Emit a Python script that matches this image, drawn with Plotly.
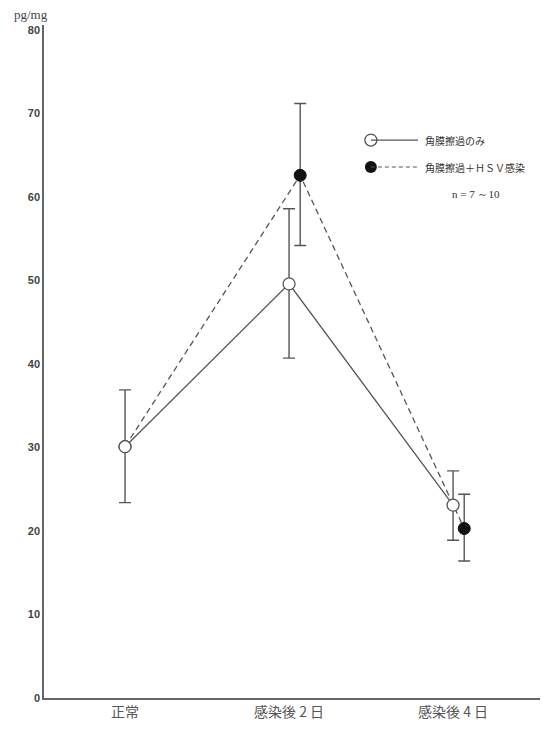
import plotly.graph_objects as go

categories = ["正常", "感染後 2 日", "感染後 4 日"]
abrasion_only = [30.1, 49.6, 23.1]
abrasion_only_err_plus = [6.8, 9.0, 4.1]
abrasion_only_err_minus = [6.7, 8.9, 4.2]
abrasion_hsv = [30.1, 62.6, 20.3]
abrasion_hsv_err_plus = [0, 8.6, 4.1]
abrasion_hsv_err_minus = [0, 8.4, 3.9]
y_ticks = [0, 10, 20, 30, 40, 50, 60, 70, 80]
y_tick_labels = ["0", "10", "20", "30", "40", "50", "60", "70", "80"]
legend_labels = ["角膜擦過のみ", "角膜擦過＋ＨＳＶ感染"]
n_note = "n = 7 ～10"

GRAY = "#555555"
FONT_CJK = "Noto Sans CJK JP"
hsv_offset = [0, 0.068, 0.068]

x_idx = list(range(len(categories)))
x_hsv = [i + o for i, o in zip(x_idx, hsv_offset)]

fig = go.Figure()

fig.add_trace(go.Scatter(
    x=x_hsv, y=abrasion_hsv, mode="lines+markers",
    line=dict(color=GRAY, width=1.3, dash="6px,4px"),
    marker=dict(symbol="circle", size=12, color="#111111", line=dict(color="#111111", width=1)),
    error_y=dict(type="data", symmetric=False, array=abrasion_hsv_err_plus,
                 arrayminus=abrasion_hsv_err_minus, color=GRAY, thickness=1.4, width=6),
    showlegend=False,
))
fig.add_trace(go.Scatter(
    x=x_idx, y=abrasion_only, mode="lines+markers",
    line=dict(color=GRAY, width=1.3),
    marker=dict(symbol="circle", size=12, color="white", line=dict(color=GRAY, width=1.3)),
    error_y=dict(type="data", symmetric=False, array=abrasion_only_err_plus,
                 arrayminus=abrasion_only_err_minus, color=GRAY, thickness=1.4, width=6),
    showlegend=False,
))

# custom legend (marker at the left end of a short line)
lx0, lx1 = 0.659, 0.754
ly = [0.829, 0.789]
fig.add_shape(type="line", xref="paper", yref="paper", x0=lx0, x1=lx1, y0=ly[0], y1=ly[0],
              line=dict(color=GRAY, width=1.2))
fig.add_shape(type="line", xref="paper", yref="paper", x0=lx0, x1=lx1, y0=ly[1], y1=ly[1],
              line=dict(color=GRAY, width=1.2, dash="4px,3px"))
fig.add_trace(go.Scatter(
    x=[lx0], y=[ly[0]], xaxis="x2", yaxis="y2", mode="markers",
    marker=dict(size=12, color="white", line=dict(color=GRAY, width=1.3)), showlegend=False,
    hoverinfo="skip"))
fig.add_trace(go.Scatter(
    x=[lx0], y=[ly[1]], xaxis="x2", yaxis="y2", mode="markers",
    marker=dict(size=12, color="#111111"), showlegend=False, hoverinfo="skip"))
for lab, yy in zip(legend_labels, ly):
    fig.add_annotation(xref="paper", yref="paper", x=lx1 + 0.01, y=yy, text=lab,
                       showarrow=False, xanchor="left", yanchor="middle",
                       font=dict(family=FONT_CJK, size=10, color="#333333"))
fig.add_annotation(xref="paper", yref="paper", x=0.819, y=0.749, text=n_note,
                   showarrow=False, xanchor="left", yanchor="middle",
                   font=dict(family="Liberation Serif", size=11, color="#333333"))
fig.add_annotation(xref="paper", yref="paper", x=-0.065, y=1.0, yshift=1, text="pg/mg",
                   showarrow=False, xanchor="left", yanchor="bottom",
                   font=dict(family="Liberation Serif", size=13, color="#444444"))

fig.update_layout(
    width=540, height=721,
    margin=dict(l=36, r=8, t=17, b=31),
    paper_bgcolor="white", plot_bgcolor="white",
    xaxis=dict(range=[-0.494, 2.53], tickvals=x_idx, ticktext=categories,
               showline=True, linecolor="#666666", linewidth=1.5, ticks="",
               showgrid=False, zeroline=False,
               tickfont=dict(family=FONT_CJK, size=14, color="#555555")),
    yaxis=dict(range=[0, 80.6], tickvals=y_ticks,
               ticktext=["<b>%s</b>" % t for t in y_tick_labels],
               showline=True, linecolor="#666666",
               linewidth=1.5, ticks="", showgrid=False, zeroline=False,
               tickfont=dict(family="Liberation Sans", size=11, color="#444444")),
    xaxis2=dict(range=[0, 1], overlaying="x", visible=False),
    yaxis2=dict(range=[0, 1], overlaying="y", visible=False),
    font=dict(family=FONT_CJK),
)

fig.write_html("out.html")
